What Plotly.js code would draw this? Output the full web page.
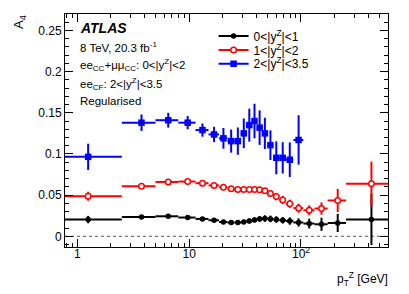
<!DOCTYPE html>
<html>
<head>
<meta charset="utf-8">
<script src="https://cdn.plot.ly/plotly-3.0.1.min.js"></script>
<style>html,body{margin:0;padding:0;background:#fff;}#chart{width:409px;height:294px;}</style>
</head>
<body>
<div id="chart"></div>
<script>
// pT^Z bin edges [GeV]
const binLo = [0, 2.5, 5, 8, 11.4, 14.9, 18.5, 22, 25.5, 29, 32.6, 36.4, 40.4, 44.9, 50.2, 56.4, 63.9, 73.4, 85.4, 105, 132, 173, 253];
const binHi = [2.5, 5, 8, 11.4, 14.9, 18.5, 22, 25.5, 29, 32.6, 36.4, 40.4, 44.9, 50.2, 56.4, 63.9, 73.4, 85.4, 105, 132, 173, 253, 600];

// A4, 0<|yZ|<1
const a4Central = [0.0203, 0.0235, 0.0243, 0.0228, 0.0211, 0.0195, 0.0174, 0.0167, 0.0167, 0.0174, 0.0187, 0.0199, 0.0211, 0.0215, 0.0211, 0.0203, 0.0195, 0.0185, 0.0168, 0.0155, 0.0146, 0.0162, 0.0203];
const errCentral = [0.0045, 0.0015, 0.0015, 0.0015, 0.0015, 0.0015, 0.002, 0.002, 0.002, 0.0025, 0.003, 0.003, 0.0035, 0.004, 0.004, 0.004, 0.004, 0.0045, 0.005, 0.006, 0.008, 0.011, 0.031];

// A4, 1<|yZ|<2
const a4Mid = [0.0487, 0.0608, 0.066, 0.0665, 0.0645, 0.0618, 0.0597, 0.0578, 0.0568, 0.0568, 0.0568, 0.0568, 0.0565, 0.0552, 0.052, 0.0483, 0.0442, 0.0395, 0.0342, 0.0316, 0.0337, 0.0435, 0.0637];
const errMid = [0.0055, 0.002, 0.002, 0.002, 0.002, 0.002, 0.002, 0.0025, 0.0025, 0.003, 0.003, 0.003, 0.0035, 0.0035, 0.004, 0.0045, 0.005, 0.005, 0.0055, 0.006, 0.0075, 0.014, 0.027];

// A4, 2<|yZ|<3.5 (first 19 bins)
const a4Forward = [0.0965, 0.138, 0.141, 0.138, 0.129, 0.1237, 0.119, 0.1156, 0.1156, 0.125, 0.135, 0.14, 0.132, 0.125, 0.1107, 0.0953, 0.0953, 0.093, 0.117];
const errForward = [0.016, 0.010, 0.009, 0.008, 0.008, 0.0093, 0.0126, 0.014, 0.0166, 0.018, 0.02, 0.021, 0.021, 0.019, 0.018, 0.02, 0.019, 0.021, 0.030];

const seriesNames = ['0&lt;|y<sup>Z</sup>|&lt;1', '1&lt;|y<sup>Z</sup>|&lt;2', '2&lt;|y<sup>Z</sup>|&lt;3.5'];
const xTickVals = [1, 10, 100];
const xTickText = ['1', '10', '10<sup>2</sup>'];
const yTickVals = [0, 0.05, 0.1, 0.15, 0.2, 0.25];
const yTickText = ['0', '0.05', '0.1', '0.15', '0.2', '0.25'];

const FONT = 'Liberation Sans, Arial, Helvetica, sans-serif';

function centers(n) { return binLo.slice(0, n).map((lo, i) => (lo + binHi[i]) / 2); }
function plusErr(n) { return binLo.slice(0, n).map((lo, i) => (binHi[i] - lo) / 2); }
function minusErr(n) { return binLo.slice(0, n).map((lo, i) => { const c = (lo + binHi[i]) / 2; return c - Math.max(lo, 0.3); }); }

function series(vals, errs, color, marker) {
  const n = vals.length;
  return {
    type: 'scatter', mode: 'markers', showlegend: false,
    x: centers(n), y: vals,
    marker: marker,
    error_y: {type: 'data', array: errs, visible: true, color: color, thickness: 2, width: 0},
    error_x: {type: 'data', symmetric: false, array: plusErr(n), arrayminus: minusErr(n), visible: true, color: color, thickness: 2, width: 0},
    cliponaxis: true
  };
}

const mBlack = {symbol: 'circle', size: 5.5, color: '#000000'};
const mRed = {symbol: 'circle', size: 5.5, color: '#ffffff', line: {color: '#ff0000', width: 1.5}};
const mBlue = {symbol: 'square', size: 6.5, color: '#0000ff'};

function legendTrace(name, color, marker, lg) {
  return {type: 'scatter', mode: 'lines+markers', x: [null], y: [null], name: name,
          line: {color: color, width: 2}, marker: marker, showlegend: true, legend: lg};
}

const data = [
  series(a4Central, errCentral, '#000000', mBlack),
  series(a4Mid, errMid, '#ff0000', mRed),
  series(a4Forward, errForward, '#0000ff', mBlue),
  legendTrace(seriesNames[0], '#000000', mBlack, 'legend'),
  legendTrace(seriesNames[1], '#ff0000', mRed, 'legend2'),
  legendTrace(seriesNames[2], '#0000ff', mBlue, 'legend3')
];

const minorX = [0.8, 0.9, 2, 3, 4, 5, 6, 7, 8, 9, 20, 30, 40, 50, 60, 70, 80, 90, 200, 300, 400, 500];

const legBase = {x: 0.46, xanchor: 'left', yanchor: 'middle', bgcolor: 'rgba(0,0,0,0)', borderwidth: 0,
                 font: {family: FONT, size: 12, color: '#000'}, itemwidth: 30};

const layout = {
  width: 409, height: 294,
  margin: {l: 65, r: 21, t: 14, b: 47},
  paper_bgcolor: '#fff', plot_bgcolor: '#fff',
  font: {family: FONT, size: 12, color: '#000'},
  xaxis: {
    type: 'log', range: [-0.11, 2.778],
    tickmode: 'array', tickvals: xTickVals, ticktext: xTickText,
    ticks: 'inside', ticklen: 8, tickwidth: 1, tickcolor: '#000',
    ticklabelstandoff: -4,
    minor: {tickmode: 'array', tickvals: minorX, ticks: 'inside', ticklen: 4, tickcolor: '#000', showgrid: false},
    showline: true, linecolor: '#000', linewidth: 1, mirror: 'ticks',
    showgrid: false, zeroline: false,
    tickfont: {family: FONT, size: 12, color: '#000'}
  },
  yaxis: {
    range: [-0.013, 0.27],
    tickmode: 'array', tickvals: yTickVals, ticktext: yTickText,
    ticks: 'inside', ticklen: 8, tickwidth: 1, tickcolor: '#000',
    minor: {dtick: 0.01, tick0: 0, ticks: 'inside', ticklen: 4, tickcolor: '#000', showgrid: false},
    showline: true, linecolor: '#000', linewidth: 1, mirror: 'ticks',
    showgrid: false, zeroline: false,
    tickfont: {family: FONT, size: 12, color: '#000'}
  },
  legend: Object.assign({}, legBase, {y: 0.906}),
  legend2: Object.assign({}, legBase, {y: 0.846}),
  legend3: Object.assign({}, legBase, {y: 0.787}),
  shapes: [
    {type: 'line', xref: 'paper', x0: 0, x1: 1, yref: 'y', y0: 0, y1: 0,
     line: {color: '#555', width: 1, dash: 'dot'}, layer: 'below'}
  ],
  annotations: [
    {text: '<b><i>ATLAS</i></b>', xref: 'paper', yref: 'paper', x: 0.039, y: 0.941, xanchor: 'left', yanchor: 'middle', showarrow: false, font: {family: FONT, size: 14, color: '#000'}},
    {text: '8 TeV, 20.3 fb<sup>-1</sup>', xref: 'paper', yref: 'paper', x: 0.039, y: 0.857, xanchor: 'left', yanchor: 'middle', showarrow: false, font: {family: FONT, size: 11.5, color: '#000'}},
    {text: 'ee<sub>CC</sub>+μμ<sub>CC</sub>: 0&lt;|y<sup>Z</sup>|&lt;2', xref: 'paper', yref: 'paper', x: 0.039, y: 0.781, xanchor: 'left', yanchor: 'middle', showarrow: false, font: {family: FONT, size: 11.5, color: '#000'}},
    {text: 'ee<sub>CF</sub>: 2&lt;|y<sup>Z</sup>|&lt;3.5', xref: 'paper', yref: 'paper', x: 0.039, y: 0.700, xanchor: 'left', yanchor: 'middle', showarrow: false, font: {family: FONT, size: 11.5, color: '#000'}},
    {text: 'Regularised', xref: 'paper', yref: 'paper', x: 0.039, y: 0.628, xanchor: 'left', yanchor: 'middle', showarrow: false, font: {family: FONT, size: 11.5, color: '#000'}},
    {text: 'A<sub>4</sub>', xref: 'paper', yref: 'paper', x: -0.139, y: 0.966, xanchor: 'center', yanchor: 'middle', textangle: -90, showarrow: false, font: {family: FONT, size: 13, color: '#000'}},
    {text: 'p<sub>T</sub><sup>Z</sup> [GeV]', xref: 'paper', yref: 'paper', x: 1.006, y: -0.137, xanchor: 'right', yanchor: 'middle', showarrow: false, font: {family: FONT, size: 12, color: '#000'}}
  ]
};

Plotly.newPlot('chart', data, layout, {staticPlot: true, displayModeBar: false});
</script>
</body>
</html>
